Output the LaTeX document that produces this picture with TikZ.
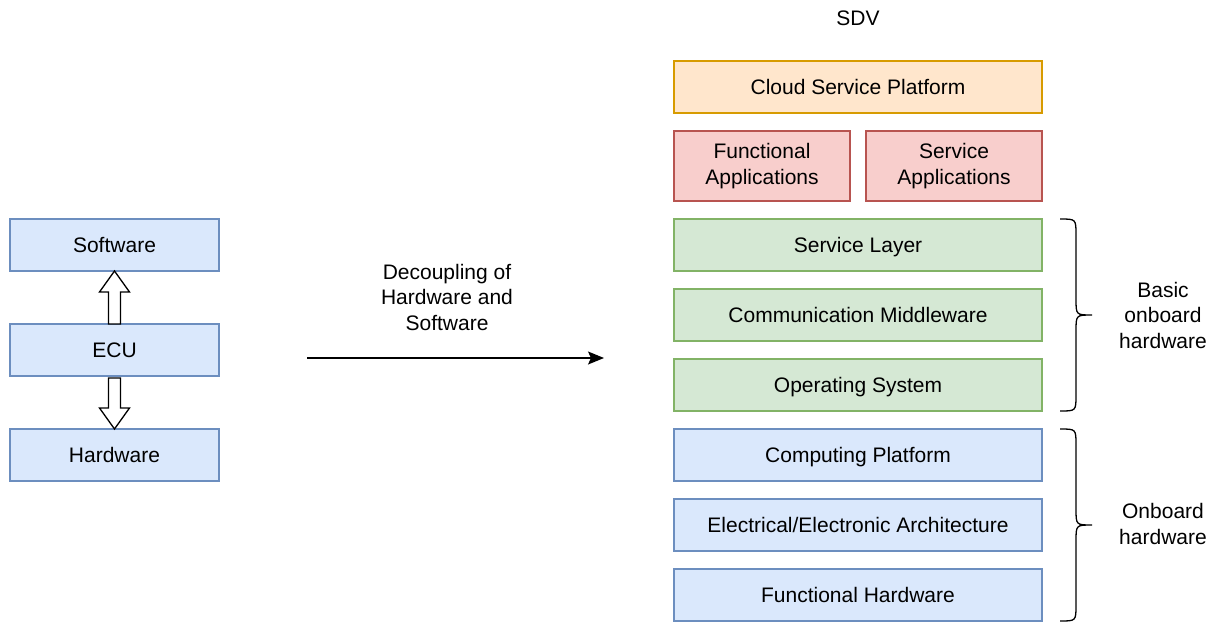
\documentclass[tikz,border=0pt]{standalone}
\usepackage{fontspec}
\setmainfont{Liberation Sans}
\usetikzlibrary{arrows.meta, positioning, calc}
\definecolor{layBlueFill}{HTML}{DAE8FC}
\definecolor{layBlueLine}{HTML}{6C8EBF}
\definecolor{layGreenFill}{HTML}{D5E8D4}
\definecolor{layGreenLine}{HTML}{82B366}
\definecolor{layRedFill}{HTML}{F8CECC}
\definecolor{layRedLine}{HTML}{B85450}
\definecolor{layOrangeFill}{HTML}{FFE6CC}
\definecolor{layOrangeLine}{HTML}{D79B00}

\begin{document}
\begin{tikzpicture}[x=1pt, y=-1pt, line width=1.3pt,
    every node/.style={font=\fontsize{21}{25.5}\selectfont, align=center, inner sep=0pt, outer sep=0pt},
    oneline/.style={text height=20pt, text depth=5pt},
    layer/.style={draw, oneline, minimum width=368pt, minimum height=52pt},
    ecubox/.style={draw=layBlueLine, fill=layBlueFill, oneline, minimum width=209pt, minimum height=52pt},
    hwlayer/.style={layer, draw=layBlueLine, fill=layBlueFill},
    swlayer/.style={layer, draw=layGreenLine, fill=layGreenFill},
    applayer/.style={draw=layRedLine, fill=layRedFill, minimum width=176pt, minimum height=70pt},
    hollow/.style={draw=black, fill=white, line join=miter},
    curly/.style={to path={let \p1=(\tikztostart), \p2=(\tikztotarget), \p3=($(\p1)!0.5!(\p2)$) in
        (\p1) .. controls ({\x1+16pt},\y1) .. ({\x1+16pt},{\y1-16pt})
        -- ({\x1+16pt},{\y3+16pt}) .. controls ({\x1+16pt},\y3) .. ({\x1+32pt},\y3)
        .. controls ({\x1+16pt},\y3) .. ({\x1+16pt},{\y3-16pt})
        -- ({\x1+16pt},{\y2+16pt}) .. controls ({\x1+16pt},\y2) .. (\p2)}}]
    \useasboundingbox (0,0) rectangle (1220,621);

    % classic ECU
    \node[ecubox] (sw) at (114.5,245) {Software};
    \node[ecubox, below=53pt of sw] (ecu) {ECU};
    \node[ecubox, below=53pt of ecu] (hw) {Hardware};
    \draw[hollow] ($(ecu.north)+(-6,0)$) -- ($(sw.south)+(-6,21)$) -- ++(-9,0) -- (sw.south)
        -- ($(sw.south)+(15,21)$) -- ++(-9,0) -- ($(ecu.north)+(6,0)$) -- cycle;
    \draw[hollow] ($(ecu.south)+(-6,2)$) -- ($(hw.north)+(-6,-21)$) -- ++(-9,0) -- (hw.north)
        -- ($(hw.north)+(15,-21)$) -- ++(-9,0) -- ($(ecu.south)+(6,2)$) -- cycle;

    % transition
    \coordinate (dstart) at (307,358);
    \coordinate (dend) at (604,358);
    \draw[-{Stealth[length=16pt, width=13pt, inset=3pt]}] (dstart) -- (dend);
    \node (decouple) at (447,297) {Decoupling of\\Hardware and\\Software};

    % SDV stack
    \node (sdv) at (858,18) {SDV};
    \node[layer, draw=layOrangeLine, fill=layOrangeFill] (cloud) at (858,87) {Cloud Service Platform};
    \node[applayer, below=18pt of cloud.south west, anchor=north west] (funcapp) {Functional\\Applications};
    \node[applayer, below=18pt of cloud.south east, anchor=north east] (svcapp) {Service\\Applications};
    \node[swlayer, below=106pt of cloud] (svc) {Service Layer};
    \node[swlayer, below=18pt of svc] (mid) {Communication Middleware};
    \node[swlayer, below=18pt of mid] (os) {Operating System};
    \node[hwlayer, below=18pt of os] (comp) {Computing Platform};
    \node[hwlayer, below=18pt of comp] (ee) {Electrical/Electronic Architecture};
    \node[hwlayer, below=18pt of ee] (fhw) {Functional Hardware};

    % braces
    \draw ($(svc.north east)+(18,0)$) to[curly] ($(os.south east)+(18,0)$);
    \draw ($(comp.north east)+(18,0)$) to[curly] ($(fhw.south east)+(18,0)$);
    \node (basiclbl) at ($(svc.north east)!0.5!(os.south east)+(121,0)$) {Basic\\onboard\\hardware};
    \node (onbdlbl) at ($(comp.north east)!0.5!(fhw.south east)+(121,-1)$) {Onboard\\hardware};
\end{tikzpicture}
\end{document}
